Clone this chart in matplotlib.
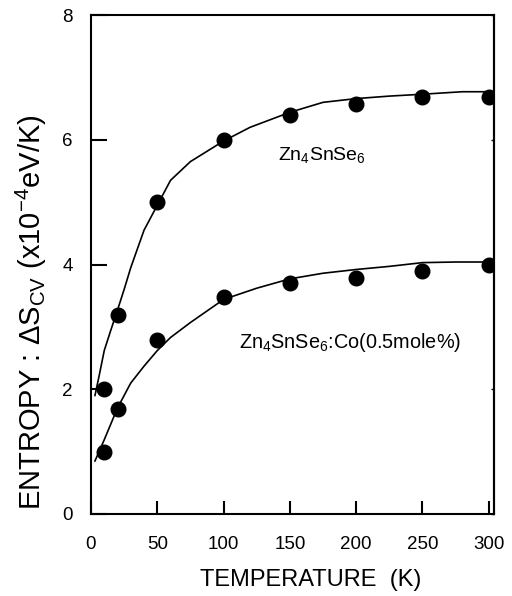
import matplotlib
matplotlib.use("Agg")
import matplotlib.pyplot as plt

plt.rcParams['font.family'] = ['Liberation Sans', 'DejaVu Sans']
plt.rcParams['mathtext.fontset'] = 'custom'
plt.rcParams['mathtext.rm'] = 'Liberation Sans'
plt.rcParams['mathtext.it'] = 'Liberation Sans'
plt.rcParams['mathtext.bf'] = 'Liberation Sans:bold'

# Measured entropy change points
temps = [10, 20, 50, 100, 150, 200, 250, 300]
pure = [2.0, 3.19, 5.0, 5.99, 6.39, 6.57, 6.68, 6.69]
cobalt = [1.0, 1.69, 2.79, 3.48, 3.70, 3.78, 3.89, 4.0]

# Fitted curves
fit_t_pure = [3, 6, 10, 15, 20, 25, 30, 40, 50, 60, 75, 100, 120, 150,
              175, 200, 225, 250, 280, 300]
fit_pure = [1.9, 2.2, 2.62, 2.95, 3.27, 3.6, 3.95, 4.55, 4.95, 5.35, 5.65,
            5.98, 6.2, 6.44, 6.6, 6.66, 6.70, 6.73, 6.77, 6.77]
fit_t_co = [3, 10, 20, 30, 40, 50, 60, 75, 100, 125, 150, 175, 200, 225,
            250, 275, 300]
fit_co = [0.85, 1.19, 1.70, 2.10, 2.37, 2.62, 2.83, 3.07, 3.44, 3.62, 3.77,
          3.86, 3.92, 3.97, 4.03, 4.04, 4.04]

x_ticks = [0, 50, 100, 150, 200, 250, 300]
y_ticks = [0, 2, 4, 6, 8]

fig = plt.figure(figsize=(5.12, 5.96), dpi=100)
ax = fig.add_axes([0.1777, 0.1376, 0.965 - 0.1777, 0.9748 - 0.1376])

ax.plot(fit_t_pure, fit_pure, color='black', lw=1.2)
ax.plot(fit_t_co, fit_co, color='black', lw=1.2)
ax.plot(temps, pure, 'o', color='black', ms=10.5, mec='black')
ax.plot(temps, cobalt, 'o', color='black', ms=10.5, mec='black')

ax.set_xlim(0, 304)
ax.set_ylim(0, 8)
ax.set_xticks(x_ticks)
ax.set_yticks(y_ticks)

for s in ax.spines.values():
    s.set_linewidth(1.5)

ax.tick_params(axis='x', direction='in', length=9.5, width=1.5,
               labelsize=13.5, pad=16, top=False)
ax.tick_params(axis='y', direction='in', length=11.5, width=1.5,
               labelsize=13.5, pad=13, right=False)

# short inward ticks along the right edge
ax_r = ax.secondary_yaxis('right')
ax_r.set_yticks(y_ticks)
ax_r.tick_params(direction='in', length=2.5, width=1.0, labelright=False)
ax_r.spines['right'].set_linewidth(1.5)

ax.text(141, 5.67, r'Zn$_{\mathrm{4}}$SnSe$_{\mathrm{6}}$', fontsize=14,
        ha='left', va='baseline')
ax.text(112, 2.66, r'Zn$_{\mathrm{4}}$SnSe$_{\mathrm{6}}$:Co(0.5mole%)',
        fontsize=14.3, ha='left', va='baseline')

fig.text(311 / 512, 1 - 580 / 596, 'TEMPERATURE  (K)', fontsize=17,
         ha='center', va='center')
fig.text(31 / 512, 1 - 312 / 596,
         r'ENTROPY : ΔS$_{\mathrm{CV}}$ (x10$^{\mathrm{-4}}$eV/K)',
         fontsize=21, rotation=90, ha='center', va='center')

fig.savefig('out.png', dpi=100)
